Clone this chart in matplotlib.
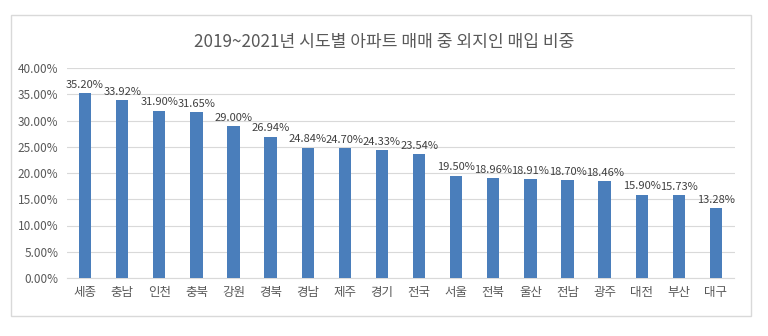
import matplotlib
matplotlib.use("Agg")
import matplotlib.pyplot as plt
from matplotlib.patches import Rectangle

plt.rcParams['font.family'] = ['Noto Sans CJK KR', 'DejaVu Sans']

regions = ["세종", "충남", "인천", "충북", "강원", "경북", "경남", "제주", "경기", "전국",
           "서울", "전북", "울산", "전남", "광주", "대전", "부산", "대구"]
shares = [35.20, 33.92, 31.90, 31.65, 29.00, 26.94, 24.84, 24.70, 24.33, 23.54,
          19.50, 18.96, 18.91, 18.70, 18.46, 15.90, 15.73, 13.28]
y_ticks = [0, 5, 10, 15, 20, 25, 30, 35, 40]
title = "2019~2021년 시도별 아파트 매매 중 외지인 매입 비중"

text_color = "#595959"
bar_color = "#4A7EBB"
grid_color = "#D9D9D9"

fig = plt.figure(figsize=(7.68, 3.36), dpi=100)
W, H = 768, 336

# chart frame
fig.patches.append(Rectangle((11 / W, 1 - 316 / H), 740 / W, 301 / H,
                             transform=fig.transFigure, fill=False,
                             edgecolor="#D9D9D9", linewidth=1))

ax = fig.add_axes([66.5 / W, 1 - 278 / H, (734.5 - 66.5) / W, (278 - 68) / H])
x = list(range(len(regions)))
bars = ax.bar(x, shares, width=0.33, color=bar_color, zorder=3)

for xi, v in zip(x, shares):
    ax.text(xi, v + 0.6, f"{v:.2f}%", ha="center", va="bottom",
            fontsize=8, color="#404040")

ax.set_xlim(-0.5, len(regions) - 0.5)
ax.set_ylim(0, 40)
ax.set_yticks(y_ticks)
ax.set_yticklabels([f"{t:.2f}%" for t in y_ticks])
ax.set_xticks(x)
ax.set_xticklabels(regions, fontsize=9)
ax.tick_params(axis="both", length=0, colors=text_color)
ax.tick_params(axis="y", pad=6, labelsize=8.5)
ax.tick_params(axis="x", pad=6)
ax.grid(axis="y", color=grid_color, linewidth=0.8, zorder=0)
for s in ["top", "right", "left"]:
    ax.spines[s].set_visible(False)
ax.spines["bottom"].set_color(grid_color)
ax.spines["bottom"].set_linewidth(0.8)

fig.text(384 / W, 1 - 42 / H, title, ha="center", va="center",
         fontsize=12.3, color=text_color)

fig.savefig("out.png", dpi=100)
